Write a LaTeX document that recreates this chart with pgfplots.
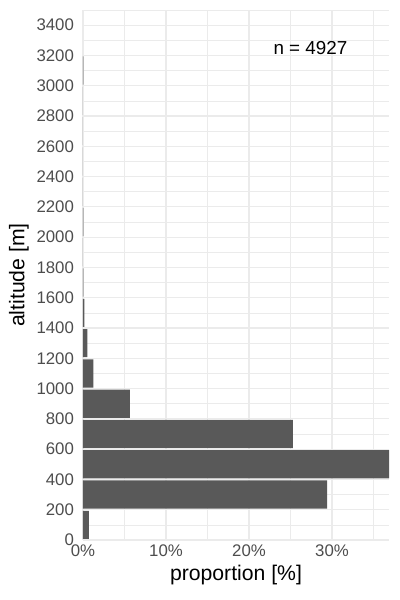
\documentclass[border=0pt]{standalone}
\usepackage{pgfplots}
\pgfplotsset{compat=1.18}
\usepackage{fontspec}
\setmainfont{Liberation Sans}
\definecolor{bargrey}{HTML}{595959}
\definecolor{gridgrey}{HTML}{EBEBEB}
\definecolor{ticktext}{HTML}{4D4D4D}
\begin{document}
\begin{tikzpicture}
\useasboundingbox (-41.5pt,-30pt) rectangle (158.5pt,270pt);
\begin{axis}[
  at={(0pt,0pt)}, anchor=origin,
  scale only axis, width=153pt, height=265pt,
  xmin=0, xmax=36.87, ymin=0, ymax=3500,
  axis line style={draw=none},
  tick style={draw=none},
  major tick length=0pt,
  xtick={0,10,20,30},
  minor xtick={5,15,25,35},
  ytick={0,200,...,3400},
  minor ytick={100,300,...,3500},
  grid=both,
  major grid style={draw=gridgrey, line width=0.6pt},
  minor grid style={draw=gridgrey, line width=0.35pt},
  xticklabel={\pgfmathprintnumber{\tick}\%},
  /pgf/number format/assume math mode=true,
  /pgf/number format/1000 sep={},
  ticklabel style={font=\fontsize{8.4}{10}\selectfont, text=ticktext},
  yticklabel style={xshift=-1pt},
  xticklabel style={yshift=1pt},
  xlabel={proportion [\%]},
  ylabel={altitude [m]},
  label style={font=\fontsize{10.6}{12}\selectfont, text=black},
  xlabel style={yshift=3pt},
  ylabel style={yshift=-3pt},
  clip=true,
]
\addplot[xbar interval, fill=bargrey, draw=none, bar interval width=0.93] coordinates {
  (0.72,0) (29.4,200) (36.87,400) (25.3,600) (5.66,800) (1.24,1000)
  (0.52,1200) (0.17,1400) (0.06,1600) (0,1800) (0.06,2000) (0,2200)
  (0,2400) (0,2600) (0,2800) (0.06,3000) (0,3200)
};
\node[font=\fontsize{9.4}{11}\selectfont, text=black] at (axis cs:27.4,3250) {n = 4927};
\end{axis}
\end{tikzpicture}
\end{document}
